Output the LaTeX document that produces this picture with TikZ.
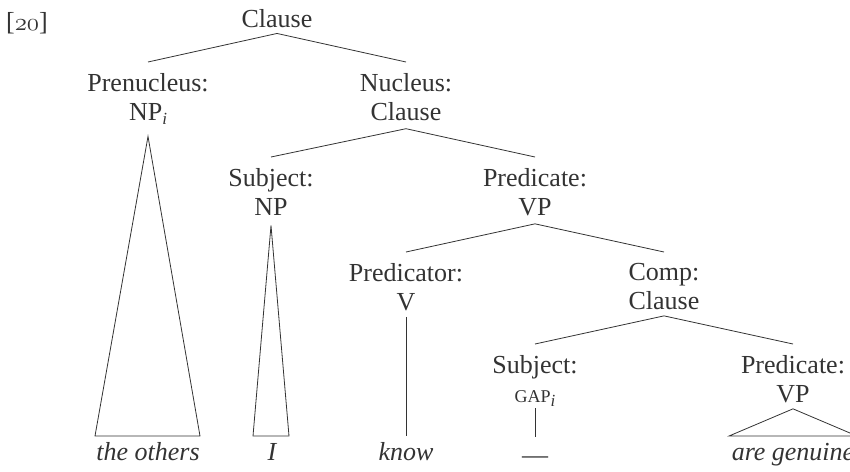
\documentclass[tikz,border=0pt]{standalone}
\usepackage{fontspec}
\setmainfont{Liberation Serif}
\definecolor{ink}{gray}{0.2}
\newcommand\mysubi{\raisebox{-4pt}{\fontsize{17}{17}\selectfont\itshape i}}
\begin{document}
\begin{tikzpicture}[x=1pt,y=-1pt,
  lab/.style={align=center,inner sep=0pt,text=ink,font=\fontsize{26}{29}\selectfont,anchor=north},
  leaf/.style={inner sep=0pt,text=ink,font=\fontsize{26}{29}\selectfont\itshape,anchor=base},
  br/.style={draw=ink,line width=0.8pt}]
\useasboundingbox (0,0) rectangle (850,471);
\clip (0,0) rectangle (850,471);
% labels
\node[inner sep=0pt,text=ink,font=\fontsize{26}{29}\selectfont,anchor=base] (num) at (27,30) {[$\mathnormal{20}$]};
\node[inner sep=0pt,text=ink,font=\fontsize{26}{29}\selectfont,anchor=base] (root) at (277,27) {Clause};
\node[lab] (pre) at (148,73) {Prenucleus:\\NP\mysubi};
\node[lab] (nuc) at (406,73) {Nucleus:\\Clause};
\node[lab] (subj) at (271,168) {Subject:\\NP};
\node[lab] (pred) at (535,168) {Predicate:\\VP};
\node[lab] (prd) at (406,263) {Predicator:\\V};
\node[lab] (comp) at (664,263) {Comp:\\Clause};
\node[lab] (gsubj) at (535,355) {Subject:\\{\fontsize{18}{29}\selectfont GAP}\mysubi};
\node[lab] (gpred) at (793,355) {Predicate:\\VP};
% leaves
\node[leaf] (l1) at (148,460) {the others};
\node[leaf] (l2) at (272,460) {I};
\node[leaf] (l3) at (406,460) {know};
\node[leaf] (l4) at (535,463) {\upshape ---};
\node[leaf] (l5) at (793,460) {are genuine};
% branches
\draw[br] ([yshift=11pt]pre.north) -- ([yshift=-6pt]root.south) -- ([yshift=11pt]nuc.north);
\draw[br] ([yshift=11pt]subj.north) -- ([yshift=-8pt]nuc.south) -- ([yshift=11pt]pred.north);
\draw[br] ([yshift=11pt]prd.north) -- ([yshift=-8pt]pred.south) -- ([yshift=11pt]comp.north);
\draw[br] ([yshift=11pt]gsubj.north) -- ([yshift=-6pt]comp.south) -- ([yshift=11pt]gpred.north);
% triangles and lines to leaves
\draw[br] ([yshift=-12pt]pre.south) -- ([xshift=-53pt,yshift=24pt]l1.base) -- ([xshift=52pt,yshift=24pt]l1.base) -- cycle;
\draw[br] ([yshift=-10pt]subj.south) -- ([xshift=-19pt,yshift=24pt]l2.base) -- ([xshift=17pt,yshift=24pt]l2.base) -- cycle;
\draw[br] ([yshift=-6pt]prd.south) -- ([yshift=24pt]l3.base);
\draw[br] ([yshift=-2pt]gsubj.south) -- ([yshift=26pt]l4.base);
\draw[br] ([yshift=-6pt]gpred.south) -- ([xshift=-64pt,yshift=24pt]l5.base) -- ([xshift=64pt,yshift=24pt]l5.base) -- cycle;
\end{tikzpicture}
\end{document}
